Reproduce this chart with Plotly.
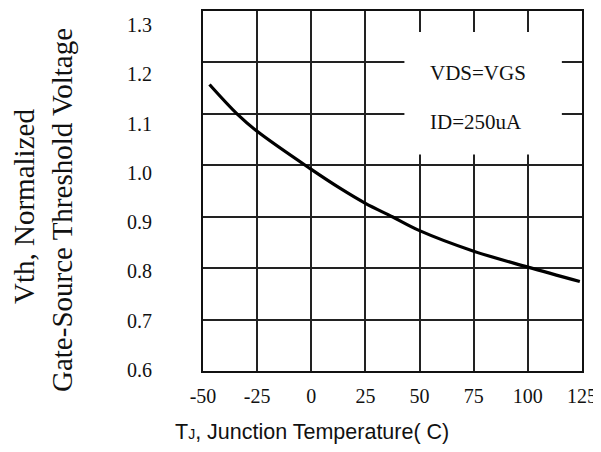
import plotly.graph_objects as go

# Data
temp_c = [-47, -34.3, -25, 0, 13.4, 25, 37.4, 50, 75, 100, 124]
vth_norm = [1.157, 1.10, 1.066, 0.992, 0.955, 0.926, 0.90, 0.873, 0.833, 0.802, 0.774]

x_ticks = [-50, -25, 0, 25, 50, 75, 100, 125]
x_tick_text = ["-50", "-25", "0", "25", "50", "75", "100", "125"]
y_tick_text = ["0.6", "0.7", "0.8", "0.9", "1.0", "1.1", "1.2", "1.3"]
y_grid = [0.6, 0.7, 0.8, 0.9, 1.0, 1.1, 1.2, 1.3]
note_lines = ["VDS=VGS", "ID=250uA"]
note_y = [1.179, 1.085]

# page offset (default body margin of the html page)
OFF = 8
W, H = 601 - OFF, 452 - OFF
L, R, T = 203 - OFF, 19, 11 - OFF
ph = 360
B = H - T - ph
pw = W - L - R
Y0, Y1 = 0.6, 1.3

def px(x):
    return (x - OFF - L) / pw

def py(y):
    return (OFF + H - B - y) / ph

def yval(y_pixel):
    return Y0 + py(y_pixel) * (Y1 - Y0)

# in the reference the y labels are spaced slightly tighter than the grid
label_px = [370, 320.7, 271.4, 222.1, 172.9, 123.6, 74.3, 25]
y_label_pos = [yval(p) for p in label_px]

serif = "Liberation Serif"
sans = "Liberation Sans"
ink = "#111111"

fig = go.Figure()
fig.add_trace(go.Scatter(
    x=temp_c, y=vth_norm, mode="lines",
    line=dict(color="black", width=3.2, shape="spline", smoothing=1.0),
    hoverinfo="skip", showlegend=False,
))

# white box for the annotation area (covers grid)
fig.add_shape(type="rect", xref="x", yref="y", x0=43, x1=115.7, y0=1.021, y1=1.259,
              fillcolor="white", line=dict(width=0), layer="between")

for txt, yv in zip(note_lines, note_y):
    fig.add_annotation(x=px(428), xref="paper", y=yv, yref="y", text=txt,
                       showarrow=False, xanchor="left", yanchor="middle",
                       font=dict(family=serif, size=21, color=ink))

fig.add_annotation(x=px(24), y=py(207), xref="paper", yref="paper",
                   text="Vth, Normalized", textangle=-90, showarrow=False,
                   xanchor="center", yanchor="middle",
                   font=dict(family=serif, size=29, color=ink))
fig.add_annotation(x=px(62), y=py(210), xref="paper", yref="paper",
                   text="Gate-Source Threshold Voltage", textangle=-90, showarrow=False,
                   xanchor="center", yanchor="middle",
                   font=dict(family=serif, size=29, color=ink))
fig.add_annotation(x=px(312), y=py(432), xref="paper", yref="paper",
                   text="T<span style='font-size:14px'>J</span>, Junction Temperature( C)",
                   showarrow=False, xanchor="center", yanchor="middle",
                   font=dict(family=sans, size=21.5, color=ink))

fig.update_xaxes(range=[-50, 125], tickmode="array", tickvals=x_ticks,
                 ticktext=x_tick_text, automargin=False,
                 showgrid=True, gridcolor="#222222", gridwidth=1.5,
                 showline=True, linecolor=ink, linewidth=2, mirror=True,
                 zeroline=False, ticks="", ticklabelstandoff=6,
                 tickfont=dict(family=serif, size=20, color=ink))
fig.update_yaxes(range=[Y0, Y1], tickmode="array", tickvals=y_label_pos,
                 ticktext=y_tick_text, automargin=False,
                 showgrid=False,
                 minor=dict(tickmode="array", tickvals=y_grid, showgrid=True,
                            gridcolor="#222222", gridwidth=1.5, ticks=""),
                 showline=True, linecolor=ink, linewidth=2, mirror=True,
                 zeroline=False, ticks="", ticklabelstandoff=45,
                 tickfont=dict(family=serif, size=20, color=ink))

fig.update_layout(width=W, height=H, margin=dict(l=L, r=R, t=T, b=B),
                  paper_bgcolor="white", plot_bgcolor="white")

fig.write_html("out.html")
